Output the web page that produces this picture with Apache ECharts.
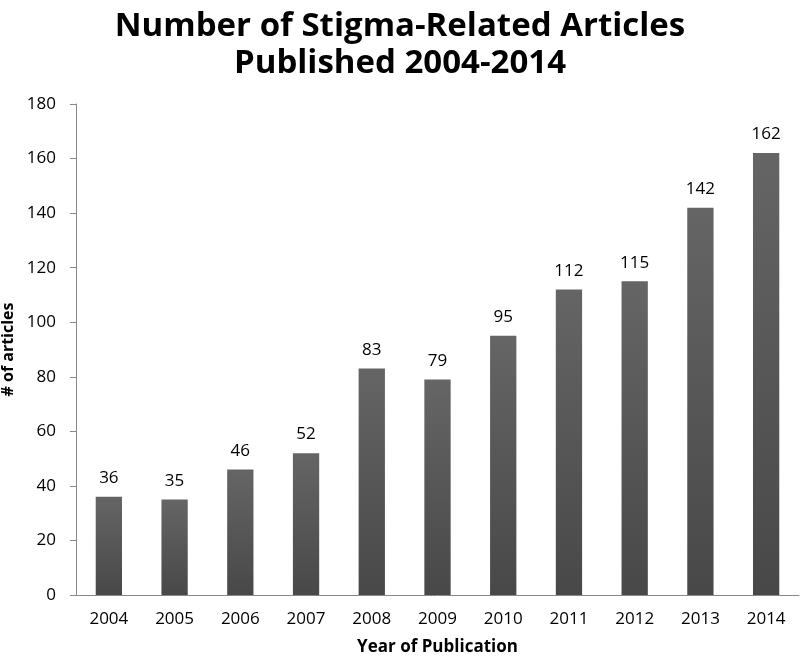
<!DOCTYPE html>
<html><head><meta charset="utf-8">
<script src="https://cdn.jsdelivr.net/npm/echarts@6/dist/echarts.min.js"></script>
<style>html,body{margin:0;padding:0;background:#fff}#c{width:800px;height:659px}</style>
</head><body><div id="c"></div>
<script>
const years = ['2004','2005','2006','2007','2008','2009','2010','2011','2012','2013','2014'];
const articles = [36,35,46,52,83,79,95,112,115,142,162];
const yTicks = {min:0,max:180,interval:20};
const FONT = '"Open Sans", sans-serif';
const chart = echarts.init(document.getElementById('c'));
chart.setOption({
  animation:false,
  title:{text:'Number of Stigma-Related Articles\nPublished 2004-2014',left:'center',top:3,
    textStyle:{fontFamily:FONT,fontWeight:'bold',fontSize:33,lineHeight:37,color:'#000'}},
  grid:{left:76,right:1,top:104,bottom:64,outerBoundsMode:'none'},
  xAxis:{type:'category',data:years,
    name:'Year of Publication',nameLocation:'middle',nameGap:44,
    nameTextStyle:{fontFamily:FONT,fontWeight:'bold',fontSize:17,color:'#000'},
    axisLine:{lineStyle:{color:'#888',width:1}},axisTick:{show:false},
    axisLabel:{fontFamily:FONT,fontSize:17,color:'#000',margin:16}},
  yAxis:{type:'value',min:yTicks.min,max:yTicks.max,interval:yTicks.interval,
    name:'# of articles',nameLocation:'middle',nameGap:55,
    nameTextStyle:{fontFamily:FONT,fontWeight:'bold',fontSize:16,color:'#000'},
    axisLine:{show:true,lineStyle:{color:'#888',width:1}},
    axisTick:{show:true,length:6,lineStyle:{color:'#888'}},
    splitLine:{show:false},
    axisLabel:{fontFamily:FONT,fontSize:17,color:'#000',margin:20}},
  series:[{type:'bar',data:articles,barWidth:'40%',
    itemStyle:{color:new echarts.graphic.LinearGradient(0,0,0,1,[{offset:0,color:'#656565'},{offset:1,color:'#484848'}])},
    label:{show:true,position:'top',distance:10,fontFamily:FONT,fontSize:17,color:'#000'}}]
});
</script></body></html>
